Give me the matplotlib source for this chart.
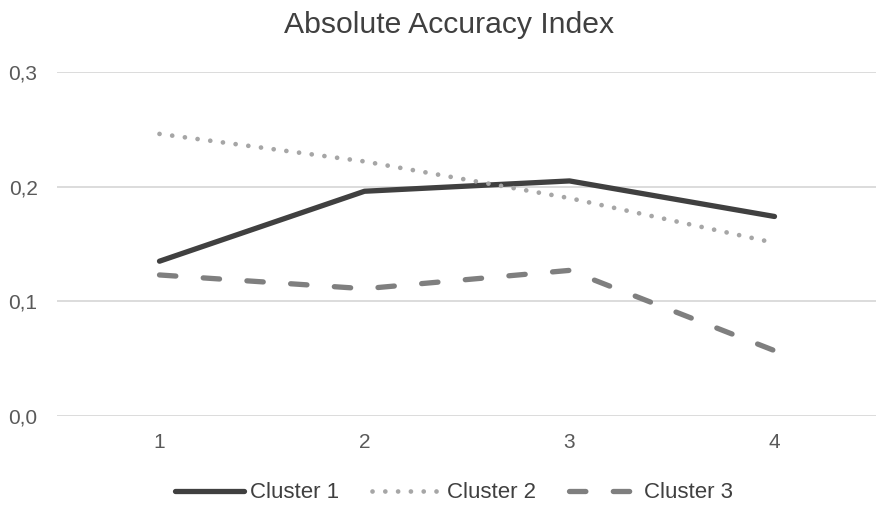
import matplotlib
matplotlib.use("Agg")
import matplotlib.pyplot as plt

plt.rcParams['font.family'] = ['Liberation Sans', 'DejaVu Sans']

categories = ["1", "2", "3", "4"]
cluster1 = [0.135, 0.196, 0.205, 0.174]
cluster2 = [0.246, 0.222, 0.190, 0.151]
cluster3 = [0.123, 0.111, 0.127, 0.057]
yticks = [0.0, 0.1, 0.2, 0.3]
ytick_labels = ["0,0", "0,1", "0,2", "0,3"]

fig = plt.figure(figsize=(8.76, 5.07), dpi=100)
ax = fig.add_axes([57/876, 1 - 416/507, (877 - 57)/876, (416 - 72)/507])

x = list(range(1, len(categories) + 1))
ax.plot(x, cluster1, color="#404040", lw=3.8, solid_capstyle="round",
        solid_joinstyle="round", label="Cluster 1")
ax.plot(x, cluster2, color="#a6a6a6", lw=3.4, linestyle=(0, (0.01, 2.7)),
        dash_capstyle="round", label="Cluster 2")
ax.plot(x, cluster3, color="#7f7f7f", lw=3.8, linestyle=(0, (3.1, 5.2)),
        dash_capstyle="round", label="Cluster 3")

ax.set_xlim(0.5, 4.5)
ax.set_ylim(0, 0.3)
ax.set_xticks(x)
ax.set_xticklabels(categories)
ax.set_yticks(yticks)
ax.set_yticklabels(ytick_labels)
ax.tick_params(axis="both", length=0, labelsize=15, colors="#595959")
ax.tick_params(axis="x", pad=12)
ax.tick_params(axis="y", pad=14)
for s in ax.spines.values():
    s.set_visible(False)
ax.grid(axis="y", color="#d9d9d9", lw=1.3)
ax.set_axisbelow(True)

fig.text(449/876, 1 - 33/507, "Absolute Accuracy Index", ha="center", va="baseline",
         fontsize=21.7, color="#404040")

leg = fig.legend(loc="center", bbox_to_anchor=(454/876, 1 - 493/507), ncol=3,
                 frameon=False, fontsize=16, handlelength=3.1,
                 columnspacing=1.5, handletextpad=0.25)
for t in leg.get_texts():
    t.set_color("#404040")

fig.savefig("out.png", dpi=100)
